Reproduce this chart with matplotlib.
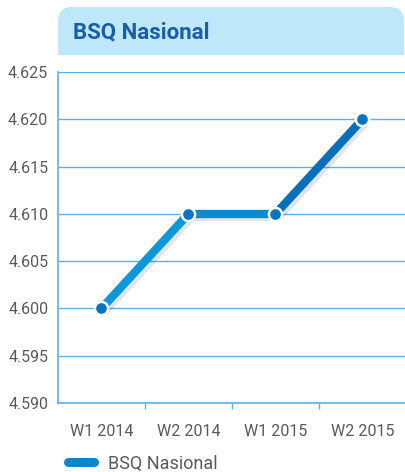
import numpy as np
import matplotlib.pyplot as plt
import matplotlib.patheffects as pe
from matplotlib.patches import FancyBboxPatch, Rectangle
from matplotlib.lines import Line2D

plt.rcParams['font.family'] = ['Roboto', 'DejaVu Sans']

# data
weeks = ['W1 2014', 'W2 2014', 'W1 2015', 'W2 2015']
values = [4.600, 4.610, 4.610, 4.620]
seg_colors = ['#0b98d8', '#088ccf', '#066fbb']

W, H = 406, 472
fig = plt.figure(figsize=(W / 100, H / 100), dpi=100, facecolor='white')
ax = fig.add_axes([58 / W, 1 - 403 / H, 1 - 58 / W, (403 - 72) / H])

# header box: rounded top corners, square bottom
hx0, hx1, hy0, hy1 = 58, 404, 7, 55
fig.patches.append(FancyBboxPatch((hx0 / W, 1 - hy1 / H), (hx1 - hx0) / W, (hy1 - hy0) / H,
                                  boxstyle='round,pad=0,rounding_size=0.035',
                                  transform=fig.transFigure, facecolor='#bfe7fa',
                                  edgecolor='none', mutation_aspect=W / H))
fig.patches.append(Rectangle((hx0 / W, 1 - hy1 / H), (hx1 - hx0) / W, 25 / H,
                             transform=fig.transFigure, facecolor='#bfe7fa', edgecolor='none'))
fig.text(73 / W, 1 - 32 / H, 'BSQ Nasional', fontsize=16, fontweight='bold',
         color='#1b5ea8', va='center', ha='left')

x = np.arange(len(weeks))
shadow = [pe.SimpleLineShadow(offset=(2, -2.5), shadow_color='#000000', alpha=0.11), pe.Normal()]
for i in range(len(x) - 1):
    ax.plot(x[i:i + 2], values[i:i + 2], color=seg_colors[i], lw=6, solid_capstyle='butt',
            path_effects=shadow, zorder=3)
ax.plot(x, values, 'o', ms=9.5, color='#0774c0', mec='white', mew=1.8, zorder=4)

ax.set_xlim(-0.5, 3.5)
ax.set_ylim(4.590, 4.625)
yt = np.arange(4.590, 4.6251, 0.005)
ax.set_yticks(yt)
ax.set_yticklabels(['%.3f' % v for v in yt])
ax.set_xticks(x)
ax.set_xticklabels(weeks)
ax.set_xticks([0.5, 1.5, 2.5], minor=True)
ax.tick_params(axis='x', which='major', length=0, pad=15, labelsize=11.5, labelcolor='#5a5a5a')
ax.tick_params(axis='x', which='minor', length=4, color='#5ab3e4', width=1)
ax.tick_params(axis='y', length=0, pad=7, labelsize=11.5, labelcolor='#5a5a5a')
ax.grid(axis='y', color='#5ab3e4', lw=1)
ax.set_axisbelow(True)
for s in ['top', 'right']:
    ax.spines[s].set_visible(False)
for s in ['left', 'bottom']:
    ax.spines[s].set_color('#5ab3e4')
    ax.spines[s].set_linewidth(1.2)

handle = Line2D([], [], color='#0a86cc', lw=6.5, solid_capstyle='round')
fig.legend([handle], ['BSQ Nasional'], loc='lower left', bbox_to_anchor=(0.128, -0.036),
           frameon=False, fontsize=13, handlelength=1.45, handletextpad=0.75,
           labelcolor='#5a5a5a')

fig.savefig('out.png', dpi=100, facecolor='white')
